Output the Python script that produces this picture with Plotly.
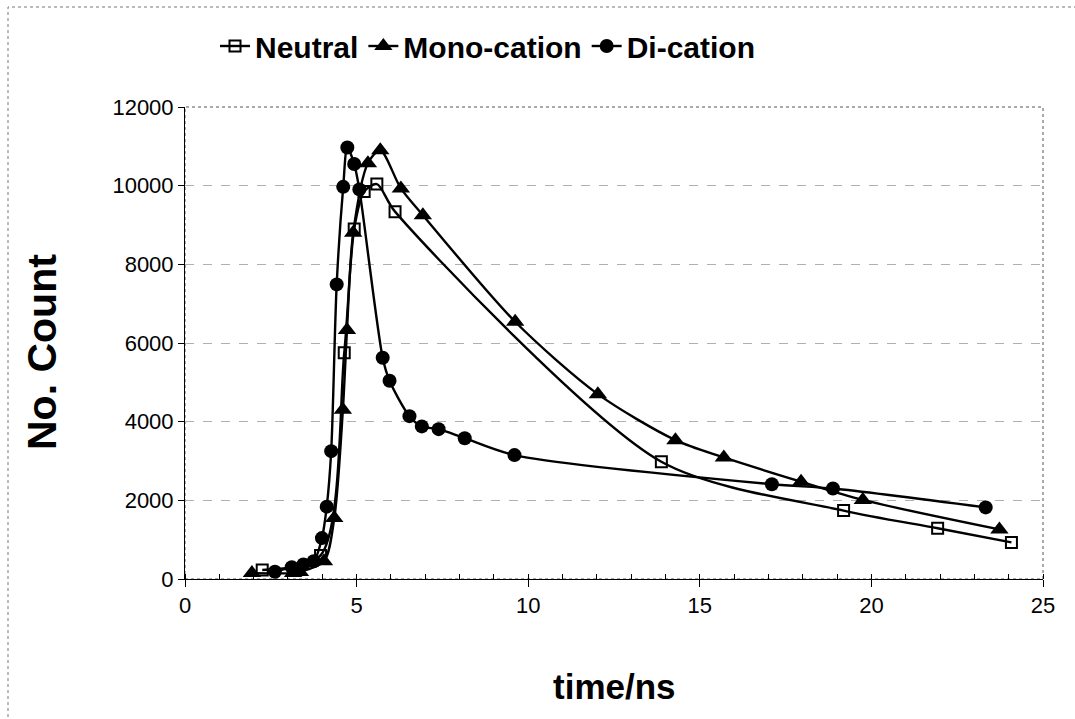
import plotly.graph_objects as go

# ---- data ----
neutral_t = [2.25, 3.95, 4.64, 4.93, 5.22, 5.59, 6.12, 13.88, 19.19, 21.93, 24.08]
neutral_n = [230, 600, 5750, 8900, 9850, 10040, 9340, 2980, 1740, 1290, 930]

mono_t = [1.95, 3.15, 3.35, 4.05, 4.35, 4.6, 4.72, 4.9, 5.33, 5.69, 6.29, 6.93,
          9.62, 12.03, 14.29, 15.7, 17.95, 19.75, 23.73]
mono_n = [150, 150, 180, 450, 1550, 4300, 6330, 8800, 10570, 10900, 9930, 9250,
          6540, 4700, 3530, 3090, 2475, 2010, 1260]

di_t = [2.62, 3.11, 3.45, 3.75, 3.99, 4.13, 4.26, 4.42, 4.61, 4.73, 4.93, 5.08,
        5.76, 5.96, 6.54, 6.9, 7.39, 8.15, 9.6, 17.1, 18.88, 23.33]
di_n = [185, 300, 370, 450, 1040, 1840, 3250, 7490, 9970, 10970, 10550, 9905,
        5625, 5040, 4140, 3880, 3810, 3580, 3150, 2410, 2300, 1820]

series_names = ["Neutral", "Mono-cation", "Di-cation"]
x_ticks = [0, 5, 10, 15, 20, 25]
y_ticks = [0, 2000, 4000, 6000, 8000, 10000, 12000]

SANS = "Liberation Sans, Arial, sans-serif"

fig = go.Figure()
line_style = dict(color="black", width=2.4, shape="spline", smoothing=0.8)
fig.add_trace(go.Scatter(x=neutral_t, y=neutral_n, name=series_names[0], mode="lines+markers",
                         line=line_style,
                         marker=dict(symbol="square-open", size=11, color="black",
                                     line=dict(color="black", width=2))))
fig.add_trace(go.Scatter(x=mono_t, y=mono_n, name=series_names[1], mode="lines+markers",
                         line=line_style,
                         marker=dict(symbol="triangle-up", size=16, color="black")))
fig.add_trace(go.Scatter(x=di_t, y=di_n, name=series_names[2], mode="lines+markers",
                         line=line_style,
                         marker=dict(symbol="circle", size=14, color="black")))

L, R, T, B = 185, 32, 107, 140
W, H = 1075, 719
pw, ph = W - L - R, H - T - B

def px_x(p):
    return (p - L) / pw

def px_y(p):
    return (H - B - p) / ph

fig.update_layout(
    width=W, height=H,
    margin=dict(l=L, r=R, t=T, b=B),
    paper_bgcolor="white", plot_bgcolor="white",
    showlegend=True,
    legend=dict(orientation="h", x=px_x(215), y=px_y(46), xanchor="left", yanchor="middle",
                font=dict(family=SANS, size=30, color="black", weight="bold"),
                bgcolor="rgba(0,0,0,0)", tracegroupgap=0),
    xaxis=dict(range=[0, 25], tickvals=x_ticks, ticktext=[str(v) for v in x_ticks],
               showgrid=False, zeroline=False,
               showline=True, linecolor="black", linewidth=1,
               ticks="outside", ticklen=7, tickcolor="black",
               minor=dict(dtick=1, ticks="inside", ticklen=5, tickcolor="black", showgrid=False),
               tickfont=dict(family=SANS, size=22, color="black")),
    yaxis=dict(range=[0, 12000], tickvals=y_ticks, ticktext=[str(v) for v in y_ticks],
               showgrid=True, gridcolor="#b0b0b0",
               griddash="dash", gridwidth=1, zeroline=False,
               showline=True, linecolor="black", linewidth=1,
               ticks="outside", ticklen=6, tickcolor="black",
               tickfont=dict(family=SANS, size=22, color="black")),
    annotations=[
        dict(text="<b>time/ns</b>", xref="paper", yref="paper", x=px_x(614), y=px_y(686),
             xanchor="center", yanchor="middle", showarrow=False,
             font=dict(family=SANS, size=35, color="black")),
        dict(text="<b>No. Count</b>", xref="paper", yref="paper", x=px_x(42), y=px_y(352),
             xanchor="center", yanchor="middle", showarrow=False, textangle=-90,
             font=dict(family=SANS, size=41, color="black")),
    ],
    shapes=[
        dict(type="rect", xref="paper", yref="paper", x0=0, x1=1, y0=0, y1=1,
             line=dict(color="#555555", width=1, dash="dot"), layer="below"),
        dict(type="rect", xref="paper", yref="paper", x0=px_x(8), x1=px_x(1090),
             y0=px_y(730), y1=px_y(7),
             line=dict(color="#777777", width=1, dash="dot")),
    ],
)

fig.write_html("out.html")
